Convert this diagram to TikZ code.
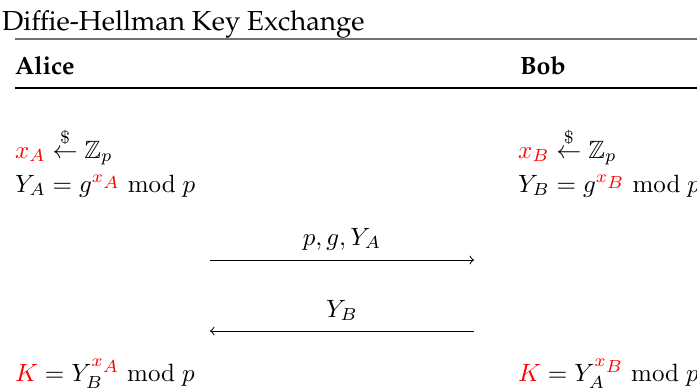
\documentclass[tikz,border=0pt]{standalone}
\usepackage[T1,TU]{fontenc}
\usepackage{amsmath,amssymb}
\usepackage{xcolor}
\newcommand{\pal}{\usefont{T1}{ppl}{m}{n}}
\newcommand{\palb}{\usefont{T1}{ppl}{b}{n}}
\newcommand{\supx}[1]{\textcolor{red}{x_{\scriptstyle #1}}}
\begin{document}
\begin{tikzpicture}[x=0.4pt,y=-0.4pt,
  txt/.style={anchor=base west,inner sep=0pt,outer sep=0pt},
  ttl/.style={txt,font=\fontsize{11}{13}\pal},
  who/.style={txt,font=\palb},
  msg/.style={anchor=base,inner sep=0pt,outer sep=0pt},
  wire/.style={line width=0.4pt,->},
  grule/.style={line width=0.8pt,black!55},
  brule/.style={line width=0.6pt,black}]
\useasboundingbox (0,0) rectangle (697,389);
\node[ttl] (title) at (2,30) {Diffie-Hellman Key Exchange};
\coordinate (g1) at (15,38.5);
\coordinate (g2) at (697,38.5);
\draw[grule] (g1) -- (g2);
\node[who] (alice) at (15,74) {Alice};
\node[who] (bob) at (520,74) {Bob};
\coordinate (b1) at (15,88);
\coordinate (b2) at (697,88);
\draw[brule] (b1) -- (b2);
\node[txt] (axa) at (15,158) {$\textcolor{red}{x_A} \stackrel{\$}{\leftarrow} \mathbb{Z}_p$};
\node[txt] (aya) at (15,192) {$Y_A = g^{\supx{A}} \bmod p$};
\node[txt] (bxb) at (518,158) {$\textcolor{red}{x_B} \stackrel{\$}{\leftarrow} \mathbb{Z}_p$};
\node[txt] (byb) at (518,192) {$Y_B = g^{\supx{B}} \bmod p$};
\coordinate (m1l) at (210,260);
\coordinate (m1r) at (474,260);
\coordinate (m2l) at (210,331);
\coordinate (m2r) at (474,331);
\node[msg] (msg1) at (342,245) {$p, g, Y_A$};
\node[msg] (msg2) at (342,317) {$Y_B$};
\draw[wire] (m1l) -- (m1r);
\draw[wire] (m2r) -- (m2l);
\node[txt] (ak) at (15,381) {$\textcolor{red}{K} = Y_B^{\supx{A}} \bmod p$};
\node[txt] (bk) at (518,381) {$\textcolor{red}{K} = Y_A^{\supx{B}} \bmod p$};
\end{tikzpicture}
\end{document}
